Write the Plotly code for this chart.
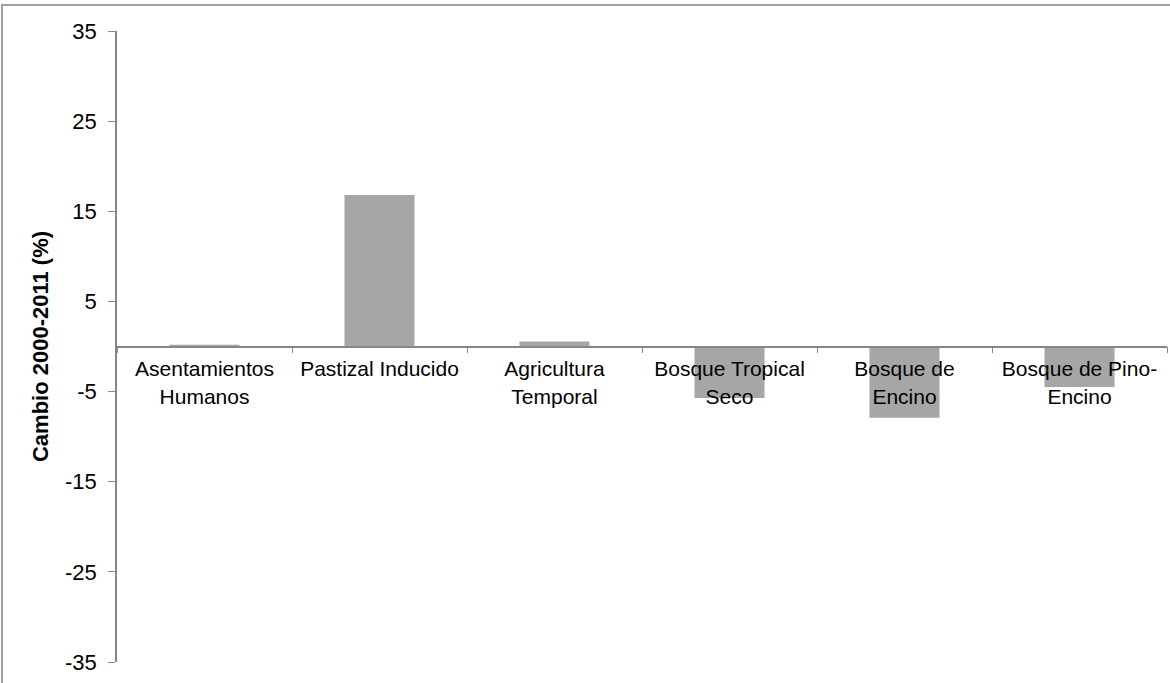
import plotly.graph_objects as go

categories = ["Asentamientos Humanos", "Pastizal Inducido", "Agricultura Temporal",
              "Bosque Tropical Seco", "Bosque de Encino", "Bosque de Pino-Encino"]
tick_labels = ["Asentamientos<br>Humanos", "Pastizal Inducido", "Agricultura<br>Temporal",
               "Bosque Tropical<br>Seco", "Bosque de<br>Encino", "Bosque de Pino-<br>Encino"]
cambio = [0.2, 16.8, 0.55, -5.7, -7.9, -4.5]
y_ticks = [-35, -25, -15, -5, 5, 15, 25, 35]
y_tick_labels = ["-35", "-25", "-15", "-5", "5", "15", "25", "35"]

W, H = 1170, 683
L, R, T, B = 117, 3, 31, 21
pw, ph = W - L - R, H - T - B

fig = go.Figure(go.Bar(x=categories, y=cambio, marker=dict(color="#A6A6A6", line=dict(width=0))))

font = "Liberation Sans, Arial, sans-serif"
fig.update_layout(
    width=W, height=H,
    margin=dict(l=L, r=R, t=T, b=B, autoexpand=False),
    paper_bgcolor="white", plot_bgcolor="white",
    bargap=0.6, showlegend=False,
    font=dict(family=font, size=22, color="black"),
    xaxis=dict(
        type="category", anchor="free", position=0.5,
        showline=True, linecolor="#868686", linewidth=1.5,
        ticks="outside", ticklen=6, tickcolor="#868686", tickwidth=1,
        tickson="boundaries", tickangle=0,
        tickvals=categories, ticktext=tick_labels,
        tickfont=dict(size=21), ticklabelstandoff=4,
        showgrid=False, zeroline=False, automargin=False,
    ),
    yaxis=dict(
        range=[-35, 35], tickvals=y_ticks, ticktext=y_tick_labels,
        showline=True, linecolor="#868686", linewidth=1.5,
        ticks="outside", ticklen=7, tickcolor="#868686",
        ticklabelstandoff=7,
        showgrid=False, zeroline=False, automargin=False,
        tickfont=dict(size=22),
        title=dict(text="<b>Cambio 2000-2011 (%)</b>", font=dict(size=22), standoff=10),
    ),
)

# chart-area border (cropped at right and bottom)
fig.add_shape(type="rect", xref="paper", yref="paper",
              x0=(2 - L) / pw, x1=(W + 10 - L) / pw,
              y0=-(B + 10) / ph, y1=1 + (T - 5) / ph,
              line=dict(color="#A0A0A0", width=2), layer="below")

fig.write_html("out.html", config={"displayModeBar": False},
               post_script="document.body.style.margin='0';")
